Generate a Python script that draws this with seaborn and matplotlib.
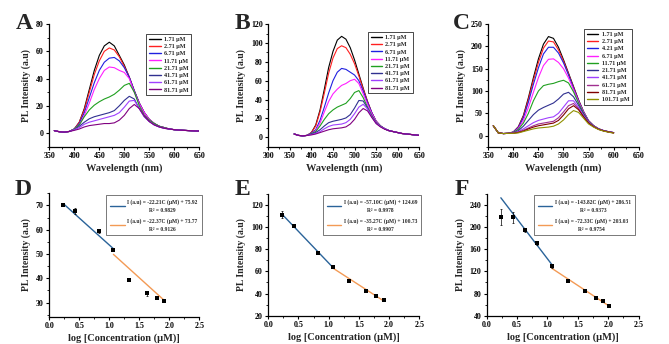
import numpy as np
import pandas as pd
import matplotlib
matplotlib.use("Agg")
import matplotlib.pyplot as plt
import seaborn as sns
from matplotlib.ticker import MultipleLocator, FormatStrFormatter

# ---------------- data ----------------
wl_ab = [360, 370, 380, 390, 400, 410, 420, 430, 440, 450, 460, 470, 480, 490, 500,
         510, 520, 530, 540, 550, 560, 570, 580, 590, 600, 610, 620, 630, 640, 650]
wl_c = [360, 370, 380, 390, 400, 410, 420, 430, 440, 450, 460, 470, 480, 490, 500,
        510, 520, 530, 540, 550, 560, 570, 580, 590, 600]

labels_ab = ["1.71 µM", "2.71 µM", "6.71 µM", "11.71 µM", "21.71 µM", "41.71 µM", "61.71 µM", "81.71 µM"]
labels_c = ["1.71 µM", "2.71 µM", "4.21 µM", "6.71 µM", "11.71 µM", "21.71 µM", "41.71 µM",
            "61.71 µM", "81.71 µM", "101.71 µM"]

colors_ab = ["#000000", "#ff2020", "#2020e0", "#ff20ff", "#20a020", "#303090", "#a040ff", "#800080"]
colors_c = ["#000000", "#ff2020", "#2020e0", "#ff20ff", "#20a020", "#303090", "#a040ff",
            "#a03090", "#800000", "#909000"]

a_1_71 = [1.8, 1.0, 0.7, 1.2, 3, 8, 18, 32, 46, 57, 64, 66.7, 64, 57, 50, 41, 31, 22, 15, 10, 7, 5, 4, 3, 2.5, 2.2, 2, 1.8, 1.6, 1.5]
a_2_71 = [1.8, 1.0, 0.7, 1.2, 3, 8, 17, 30, 43, 53, 60, 62.5, 61, 56, 49, 41, 31, 22, 15, 10, 7, 5, 4, 3, 2.5, 2.2, 2, 1.8, 1.6, 1.5]
a_6_71 = [1.8, 1.0, 0.7, 1.2, 3, 7, 15, 26, 37, 46, 52, 55, 55.5, 53, 48, 41, 31, 22, 15, 10, 7, 5, 4, 3, 2.5, 2.2, 2, 1.8, 1.6, 1.5]
a_11_71 = [1.8, 1.0, 0.7, 1.2, 3, 6, 13, 22, 32, 40, 46, 48.5, 48, 46, 44.5, 40, 30, 21.5, 15, 10, 7, 5, 4, 3, 2.5, 2.2, 2, 1.8, 1.6, 1.5]
a_21_71 = [1.8, 1.0, 0.7, 1.2, 3, 6, 12, 17, 20.5, 23, 25, 26.5, 28.5, 31.5, 35, 36.5, 30, 20, 13, 9.5, 7, 5, 4, 3, 2.5, 2.2, 2, 1.8, 1.6, 1.5]
a_41_71 = [1.8, 1.0, 0.7, 1.2, 2.5, 5, 8, 10.5, 12, 13, 14, 15, 16.5, 20, 24, 27, 25, 18, 12, 8.5, 6, 4.5, 3.5, 3, 2.5, 2.2, 2, 1.8, 1.6, 1.5]
a_61_71 = [1.8, 1.0, 0.7, 1.2, 2.5, 4, 6.5, 8, 9, 10, 11, 12, 13, 15, 19, 23.5, 24, 18, 12, 8.5, 6, 4.5, 3.5, 3, 2.5, 2.2, 2, 1.8, 1.6, 1.5]
a_81_71 = [1.8, 1.0, 0.7, 1.2, 2, 3, 4.5, 5.5, 6, 6.5, 7, 7, 7.5, 9.5, 13, 18, 21, 18, 12.5, 8.5, 6, 4.5, 3.5, 3, 2.5, 2.2, 2, 1.8, 1.6, 1.5]

b_1_71 = [3.5, 2, 1.5, 2, 5, 13, 29, 51, 74, 91, 103, 107, 104, 95, 82, 67, 52, 38, 26, 17, 12, 9, 7, 6, 5, 4, 3.5, 3, 2.5, 2]
b_2_71 = [3.5, 2, 1.5, 2, 5, 12, 27, 47, 68, 84, 94, 97, 95, 88, 78, 65, 51, 38, 26, 17, 12, 9, 7, 6, 5, 4, 3.5, 3, 2.5, 2]
b_6_71 = [3.5, 2, 1.5, 2, 4.5, 8, 18, 32, 47, 60, 69, 73, 72, 69, 66, 60, 49, 37, 26, 17, 12, 9, 7, 6, 5, 4, 3.5, 3, 2.5, 2]
b_11_71 = [3.5, 2, 1.5, 2, 4, 7, 15, 27, 38, 46, 51, 55, 57, 60, 61.5, 57, 46, 35, 25, 17, 12, 9, 7, 6, 5, 4, 3.5, 3, 2.5, 2]
b_21_71 = [3.5, 2, 1.5, 2, 4, 6, 12, 19, 25, 29, 32, 34, 36, 41, 47.5, 49.5, 42, 32, 23, 16, 12, 9, 7, 6, 5, 4, 3.5, 3, 2.5, 2]
b_41_71 = [3.5, 2, 1.5, 2, 3.5, 5, 8, 12, 15.5, 17, 18, 19, 20.5, 24, 31, 39, 38.5, 31, 22, 15.5, 11.5, 9, 7, 6, 5, 4, 3.5, 3, 2.5, 2]
b_61_71 = [3.5, 2, 1.5, 2, 3, 4, 6, 9, 11.5, 13, 13.5, 14, 15.5, 19, 25, 32, 35, 30, 21.5, 15, 11.5, 9, 7, 6, 5, 4, 3.5, 3, 2.5, 2]
b_81_71 = [3.5, 2, 1.5, 2, 2.5, 3.5, 5, 6.5, 8, 9, 9.5, 10, 11, 14, 19, 26, 30.5, 28, 21, 14.5, 11, 8.5, 7, 6, 5, 4, 3.5, 3, 2.5, 2]

c_1_71 = [22, 6, 4.5, 5, 8, 20, 45, 85, 130, 172, 205, 222, 218, 198, 170, 140, 110, 80, 54, 33, 22, 15, 11, 8.5, 6.5]
c_2_71 = [22, 6, 4.5, 5, 8, 19, 43, 81, 124, 164, 196, 212, 210, 192, 167, 138, 108, 79, 53, 33, 22, 15, 11, 8.5, 6.5]
c_4_21 = [22, 6, 4.5, 5, 8, 18, 40, 75, 115, 152, 183, 198, 198, 185, 163, 136, 106, 78, 53, 33, 22, 15, 11, 8.5, 6.5]
c_6_71 = [22, 6, 4.5, 5, 7, 16, 34, 63, 97, 130, 157, 171, 172, 164, 150, 129, 103, 76, 52, 33, 22, 15, 11, 8.5, 6.5]
c_11_71 = [22, 6, 4.5, 5, 7, 14, 28, 50, 78, 100, 112, 115, 117, 121, 124, 118, 98, 73, 50, 32, 22, 15, 11, 8.5, 6.5]
c_21_71 = [22, 6, 4.5, 5, 6, 11, 21, 34, 47, 57, 63, 68, 73, 82, 93, 97, 87, 68, 48, 31, 21, 15, 11, 8.5, 6.5]
c_41_71 = [22, 6, 4.5, 5, 6, 9, 15, 22, 29, 34, 37, 40, 42, 50, 64, 78, 78, 63, 45, 30, 21, 15, 11, 8.5, 6.5]
c_61_71 = [22, 6, 4.5, 5, 5.5, 8, 12, 17, 22, 26, 28, 30, 32, 40, 53, 67, 72, 60, 43, 29, 20, 14, 10.5, 8, 6]
c_81_71 = [22, 6, 4.5, 5, 5, 7, 10, 15, 19, 22, 24, 26, 28, 34, 46, 60, 67, 58, 42, 28, 20, 14, 10.5, 8, 6]
c_101_71 = [22, 6, 4.5, 5, 5, 6, 9, 12, 15, 17, 18, 19, 21, 26, 35, 47, 56, 52, 39, 26, 19, 13.5, 10, 7.5, 5.5]

conc_de = [1.71, 2.71, 6.71, 11.71, 21.71, 41.71, 61.71, 81.71]
conc_f = [1.71, 2.71, 4.21, 6.71, 11.71, 21.71, 41.71, 61.71, 81.71, 101.71]

d_int = [70.3, 67.6, 59.4, 51.7, 39.5, 33.8, 31.9, 30.6]
d_err = [0.4, 1.3, 0.6, 0.5, 0.5, 0.9, 0.4, 0.4]
e_int = [111.3, 100.8, 76.3, 63.8, 51.4, 42.3, 37.9, 33.8]
e_err = [3.0, 0.8, 1.0, 0.8, 0.8, 0.7, 0.7, 0.6]
f_int = [218, 218, 194.5, 171.5, 129, 103, 85, 72.4, 67, 57.4]
f_err = [14, 10, 4, 3, 3, 3, 2, 2, 2, 2]

d_fit = [(-22.21, 75.92, "-22.21", "75.92", "0.9829"), (-22.37, 73.77, "-22.37", "73.77", "0.9126")]
e_fit = [(-57.10, 124.69, "-57.10", "124.69", "0.9978"), (-35.27, 100.73, "-35.27", "100.73", "0.9907")]
f_fit = [(-143.82, 286.51, "-143.82", "286.51", "0.9373"), (-72.33, 203.03, "-72.33", "203.03", "0.9754")]
fit_colors = ["#2a6399", "#f39a55"]

# ---------------- style ----------------
sns.set_theme(style="ticks")
plt.rcParams["font.family"] = ["Liberation Serif", "DejaVu Serif"]
plt.rcParams["font.weight"] = "bold"
plt.rcParams["axes.labelweight"] = "bold"
plt.rcParams["axes.linewidth"] = 0.9

fig = plt.figure(figsize=(6.69, 3.44), dpi=100)

def style(ax, xlim, xmaj, ylim, ymaj, xfmt=None, xlabel="", ylabel="PL Intensity (a.u)"):
    ax.set_xlim(*xlim)
    ax.set_ylim(*ylim)
    ax.xaxis.set_major_locator(MultipleLocator(xmaj))
    ax.xaxis.set_minor_locator(MultipleLocator(xmaj / 2))
    ax.yaxis.set_major_locator(MultipleLocator(ymaj))
    ax.yaxis.set_minor_locator(MultipleLocator(ymaj / 2))
    if xfmt:
        ax.xaxis.set_major_formatter(FormatStrFormatter(xfmt))
    for s in ["top", "right"]:
        ax.spines[s].set_visible(False)
    for s in ["left", "bottom"]:
        ax.spines[s].set_color("black")
        ax.spines[s].set_linewidth(0.9)
    ax.tick_params(which="major", direction="out", length=2.5, width=0.8, labelsize=5.7, pad=1.5, colors="black")
    ax.tick_params(which="minor", direction="out", length=1.4, width=0.6, colors="black")
    ax.set_xlabel(xlabel, fontsize=7.5, labelpad=2)
    ax.set_ylabel(ylabel, fontsize=7, labelpad=3.5)
    ax.grid(False)


def spectra(ax, wl, series, labels, colors, anchor):
    rows = []
    for lab, vals in zip(labels, series):
        for w, v in zip(wl, vals):
            rows.append((w, v, lab))
    df = pd.DataFrame(rows, columns=["wl", "I", "conc"])
    sns.lineplot(data=df, x="wl", y="I", hue="conc", hue_order=labels,
                 palette=colors, linewidth=0.8, ax=ax, legend=True)
    h, l = ax.get_legend_handles_labels()
    for hh in h:
        hh.set_linewidth(1.0)
    leg = ax.legend(h, l, loc="upper right", bbox_to_anchor=anchor, fontsize=4.4,
                    frameon=True, fancybox=False, edgecolor="black", framealpha=1,
                    borderpad=0.45, labelspacing=0.32, handlelength=1.9, handletextpad=0.5,
                    borderaxespad=0)
    leg.get_frame().set_linewidth(0.5)


def calib(ax, conc, inten, err, fits, split, anchor):
    logc = np.log10(np.array(conc))
    segs = [(logc[0], logc[split]), (logc[split], logc[-1])]
    for (m, b, ms, bs, r2), (x0, x1), col in zip(fits, segs, fit_colors):
        xs = np.array([x0, x1])
        lab = f"I (a.u) = {ms}C (µM) + {bs}\nR² = {r2}"
        sns.lineplot(x=xs, y=m * xs + b, color=col, linewidth=1.0, ax=ax, label=lab)
    ax.errorbar(logc, inten, yerr=err, fmt="none", ecolor="black", elinewidth=0.5, capsize=1.0,
                capthick=0.5, zorder=3)
    sns.scatterplot(x=logc, y=inten, marker="s", color="black", s=7, linewidth=0, ax=ax, zorder=4)
    h, l = ax.get_legend_handles_labels()
    leg = ax.legend(h, l, loc="upper right", bbox_to_anchor=anchor, fontsize=4.0,
                    frameon=True, fancybox=False, edgecolor="#444444", framealpha=1,
                    borderpad=0.7, labelspacing=0.9, handlelength=2.6, handletextpad=0.5,
                    borderaxespad=0)
    leg.get_frame().set_linewidth(0.5)
    for t in leg.get_texts():
        t.set_multialignment("center")
        t.set_linespacing(1.75)


# Panel A
axA = fig.add_axes([0.0737, 0.5735, 0.2242, 0.3565])
spectra(axA, wl_ab, [a_1_71, a_2_71, a_6_71, a_11_71, a_21_71, a_41_71, a_61_71, a_81_71],
        labels_ab, colors_ab, (0.945, 0.92))
style(axA, (350, 650), 50, (-10, 80), 20, xlabel="Wavelength (nm)")

# Panel B
axB = fig.add_axes([0.401, 0.5735, 0.2257, 0.3565])
spectra(axB, wl_ab, [b_1_71, b_2_71, b_6_71, b_11_71, b_21_71, b_41_71, b_61_71, b_81_71],
        labels_ab, colors_ab, (0.957, 0.935))
style(axB, (300, 650), 50, (-10, 120), 20, xlabel="Wavelength (nm)")

# Panel C
axC = fig.add_axes([0.7299, 0.5735, 0.2248, 0.3565])
spectra(axC, wl_c, [c_1_71, c_2_71, c_4_21, c_6_71, c_11_71, c_21_71, c_41_71, c_61_71, c_81_71, c_101_71],
        labels_c, colors_c, (0.955, 0.96))
style(axC, (350, 650), 50, (-25, 250), 50, xlabel="Wavelength (nm)")

# Panel D
axD = fig.add_axes([0.0737, 0.0794, 0.2242, 0.3587])
calib(axD, conc_de, d_int, d_err, d_fit, 3, (1.015, 0.985))
style(axD, (0, 2.5), 0.5, (24.2, 75), 10, xfmt="%.1f", xlabel="log [Concentration (µM)]")

# Panel E
axE = fig.add_axes([0.401, 0.0823, 0.2257, 0.354])
calib(axE, conc_de, e_int, e_err, e_fit, 3, (1.013, 0.99))
style(axE, (0, 2.5), 0.5, (20, 130), 20, xfmt="%.1f", xlabel="log [Concentration (µM)]")

# Panel F
axF = fig.add_axes([0.7275, 0.0823, 0.2272, 0.354])
calib(axF, conc_f, f_int, f_err, f_fit, 4, (0.976, 0.99))
style(axF, (0, 2.5), 0.5, (40, 260), 40, xfmt="%.1f", xlabel="log [Concentration (µM)]")

for letter, x, y in [("A", 0.036, 0.933), ("B", 0.363, 0.933), ("C", 0.69, 0.933),
                     ("D", 0.034, 0.448), ("E", 0.363, 0.448), ("F", 0.69, 0.448)]:
    fig.text(x, y, letter, fontsize=17, fontweight="bold", ha="center", va="center")

fig.savefig("out.png", dpi=100)
